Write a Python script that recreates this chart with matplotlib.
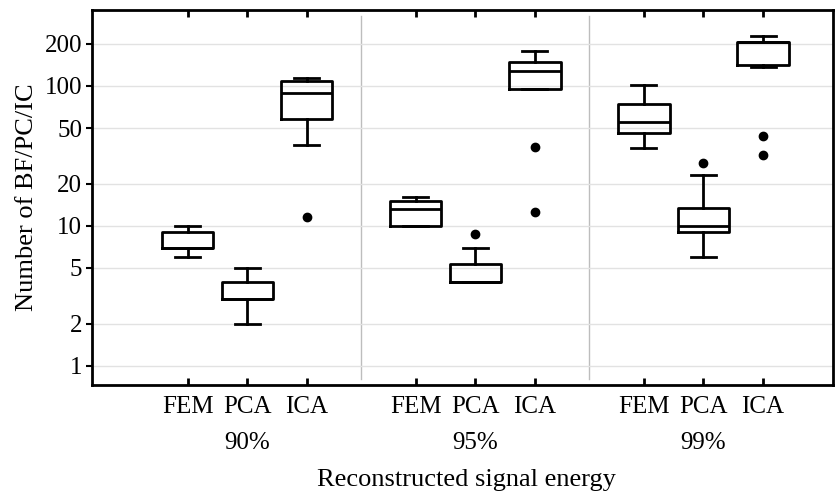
import matplotlib
matplotlib.use('Agg')
import matplotlib.pyplot as plt
import matplotlib.transforms as mtransforms
from matplotlib.ticker import FixedLocator, NullLocator

plt.rcParams['font.family'] = ['Liberation Serif', 'DejaVu Serif']

methods = ['FEM', 'PCA', 'ICA']
energies = ['90%', '95%', '99%']

# box statistics, order: FEM/PCA/ICA for 90%, 95%, 99%
whislo = [6, 2, 38, 10, 4, 95, 36, 6, 137]
q1 = [7, 3, 58, 10, 4, 95, 46, 9, 141]
med = [7, 3, 89, 13.2, 4, 128, 55, 10, 206]
q3 = [9, 4, 108, 15.1, 5.35, 148, 74, 13.4, 206]
whishi = [10, 5, 114, 16.1, 7, 178, 102, 23.1, 228]
fliers = [[], [], [11.6], [], [8.8], [36.7, 12.6], [], [28.2], [44, 32]]

yticks = [1, 2, 5, 10, 20, 50, 100, 200]

step = 3.83
positions = []
for g in range(len(energies)):
    for m in range(len(methods)):
        positions.append(g * step + m)

stats = []
for i in range(len(positions)):
    stats.append({'whislo': whislo[i], 'q1': q1[i], 'med': med[i],
                  'q3': q3[i], 'whishi': whishi[i], 'fliers': fliers[i]})

fig = plt.figure(figsize=(8.35, 4.94), dpi=100)
ax = fig.add_axes([0.110, 0.221, 0.888, 0.759])

lw = 2.0
ax.bxp(stats, positions=positions, widths=0.86, showfliers=True,
       boxprops=dict(color='black', linewidth=lw),
       whiskerprops=dict(color='black', linewidth=lw),
       capprops=dict(color='black', linewidth=lw),
       medianprops=dict(color='black', linewidth=lw),
       flierprops=dict(marker='o', markerfacecolor='black',
                       markeredgecolor='black', markersize=6),
       capwidths=0.42, zorder=3)

ax.set_yscale('log')
ax.set_ylim(0.73, 350)
ax.set_xlim(-1.61, 10.84)

ax.yaxis.set_major_locator(FixedLocator(yticks))
ax.yaxis.set_minor_locator(NullLocator())
ax.set_yticklabels([str(v) for v in yticks], fontsize=18)
ax.grid(axis='y', color='#e2e2e2', linewidth=1, zorder=0)

for g in range(1, len(energies)):
    xsep = (g - 1) * step + 2 + (step - 2) / 2
    ax.axvline(xsep, ymin=0.015, ymax=0.985, color='#bdbdbd',
               linewidth=1, zorder=1)

ax.set_xticks(positions)
ax.set_xticklabels(methods * len(energies), fontsize=18)
ax.tick_params(axis='x', direction='in', top=True, length=5, width=2, pad=8)
ax.tick_params(axis='y', direction='out', length=4, width=1.5, pad=3)

trans = mtransforms.blended_transform_factory(ax.transData, ax.transAxes)
for g, lab in enumerate(energies):
    ax.text(g * step + 1, -0.155, lab, transform=trans, ha='center',
            va='center', fontsize=18)

ax.set_ylabel('Number of BF/PC/IC', fontsize=19)
ax.yaxis.set_label_coords(-0.088, 0.5)
ax.yaxis.label.set_va('center')
ax.set_xlabel('Reconstructed signal energy', fontsize=19)
ax.xaxis.set_label_coords(0.505, -0.255)
ax.xaxis.label.set_va('center')

for s in ax.spines.values():
    s.set_linewidth(2)

fig.savefig('out.png', dpi=100)
